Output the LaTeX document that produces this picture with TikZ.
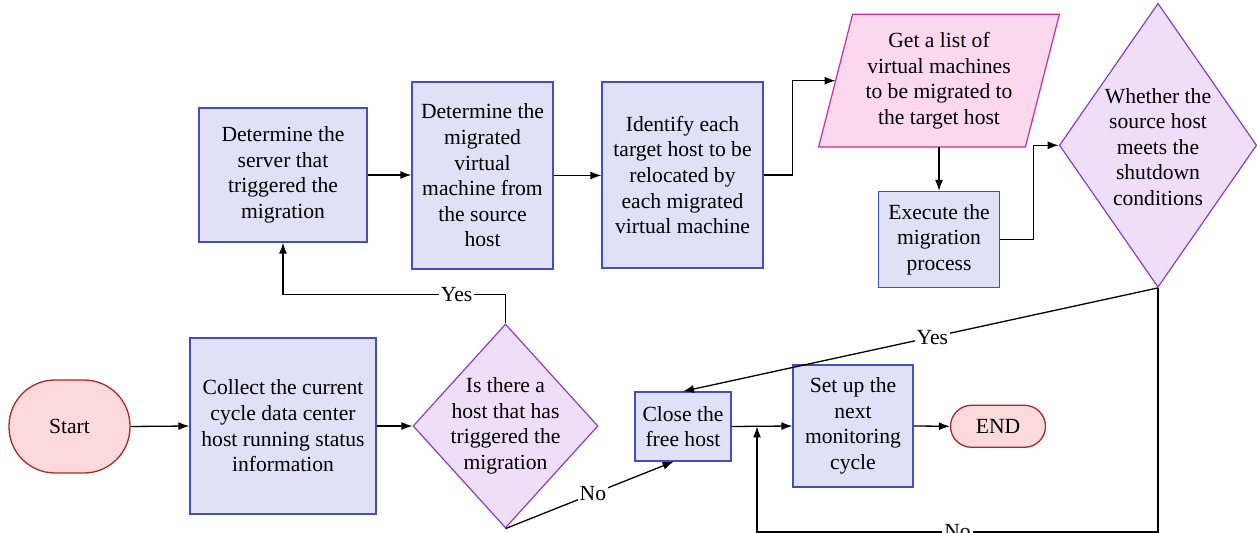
\documentclass[tikz,border=0pt]{standalone}
\usepackage{fontspec}
\setmainfont{Liberation Serif}
\usetikzlibrary{shapes.geometric,arrows.meta,calc}
\definecolor{boxfill}{RGB}{224,224,247}
\definecolor{boxdraw}{RGB}{68,78,192}
\definecolor{diafill}{RGB}{238,222,247}
\definecolor{diadraw}{RGB}{137,62,200}
\definecolor{parafill}{RGB}{252,216,238}
\definecolor{paradraw}{RGB}{196,48,160}
\definecolor{termfill}{RGB}{252,218,220}
\definecolor{termdraw}{RGB}{172,40,40}
\begin{document}
\begin{tikzpicture}[x=0.5pt,y=-0.5pt,
  every node/.style={font=\fontsize{10.8}{12.8}\selectfont, align=center},
  pbox/.style={draw=boxdraw, fill=boxfill, line width=0.65pt, inner sep=0pt},
  term/.style={draw=termdraw, fill=termfill, line width=0.65pt, inner sep=0pt},
  dia/.style={diamond, draw=diadraw, fill=diafill, line width=0.6pt, inner sep=0pt},
  iobox/.style={draw=paradraw, fill=parafill, line width=0.6pt, line join=miter},
  txt/.style={inner sep=0pt},
  arr/.style={line width=0.65pt, -{Latex[length=5.5pt,width=4pt]}},
  lbl/.style={fill=white, inner sep=1pt}]
\useasboundingbox (0,0) rectangle (1257,533);

% nodes
\node[term, rounded corners=23pt, minimum width=60.5pt, minimum height=46.5pt] (start) at (69.5,426.5) {Start};
\node[pbox, minimum width=93pt, minimum height=88pt] (collect) at (283,426) {Collect the current\\cycle data center\\host running status\\information};
\node[dia, minimum width=92.5pt, minimum height=102pt] (d1) at (505.5,426) {};
\node[txt] (d1t) at (d1) {Is there a\\host that has\\triggered the\\migration};
\node[pbox, minimum width=84pt, minimum height=67pt] (b1) at (283,175) {Determine the\\server that\\triggered the\\migration};
\node[pbox, minimum width=70.5pt, minimum height=93.5pt] (b2) at (482.5,175.5) {Determine the\\migrated\\virtual\\machine from\\the source\\host};
\node[pbox, minimum width=80.5pt, minimum height=93pt] (b3) at (682.5,175) {Identify each\\target host to be\\relocated by\\each migrated\\virtual machine};
% parallelogram (input/output)
\node[inner sep=0pt, minimum width=120pt, minimum height=66pt] (para) at (939,80.7) {};
\draw[iobox] ([xshift=17pt]para.north west) -- (para.north east)
  -- ([xshift=-17pt]para.south east) -- (para.south west) -- cycle;
\coordinate (parain) at ([xshift=8.5pt]para.west);
\node[txt] (parat) at (para) {Get a list of\\virtual machines\\to be migrated to\\the target host};
\node[pbox, minimum width=60.5pt, minimum height=48pt] (exe) at (939,239.5) {Execute the\\migration\\process};
\node[dia, minimum width=98.7pt, minimum height=142pt] (d2) at (1158,145.3) {};
\node[txt] (d2t) at (1158,147) {Whether the\\source host\\meets the\\shutdown\\conditions};
\node[pbox, minimum width=48pt, minimum height=34.5pt] (close) at (683,426.5) {Close the\\free host};
\node[pbox, minimum width=60pt, minimum height=61pt] (setup) at (853,426) {Set up the\\next\\monitoring\\cycle};
\node[term, rounded corners=10.5pt, minimum width=47.5pt, minimum height=21pt] (end) at (998,426.3) {END};
\coordinate (j) at (757,426.5);

% connectors
\draw[arr] (start.east) -- (collect.west);
\draw[arr] (collect.east) -- (d1.west);
\draw[arr] (d1.north) -- ++(0,-29) -| node[lbl, pos=0.11] {Yes} (b1.south);
\draw[arr] (b1.east) -- (b2.west |- b1.east);
\draw[arr] (b2.east) -- (b3.west |- b2.east);
\draw[arr] (b3.east) -- ++(29,0) |- (parain);
\draw[arr] (para.south -| exe.north) -- (exe.north);
\draw[arr] (exe.east) -- ++(33,0) |- (d2.west);
\draw[arr] (d2.south) -- node[lbl, pos=0.475] {Yes} (close.north);
\draw[arr] (d2.south) -- ++(0,244) -| node[lbl, pos=0.25] {No} (j);
\draw[arr] (d1.south) -- node[lbl, pos=0.52] {No} (close.-105);
\draw[arr] (close.east) -- (setup.west);
\draw[arr] (setup.east) -- (end.west);
\end{tikzpicture}
\end{document}
